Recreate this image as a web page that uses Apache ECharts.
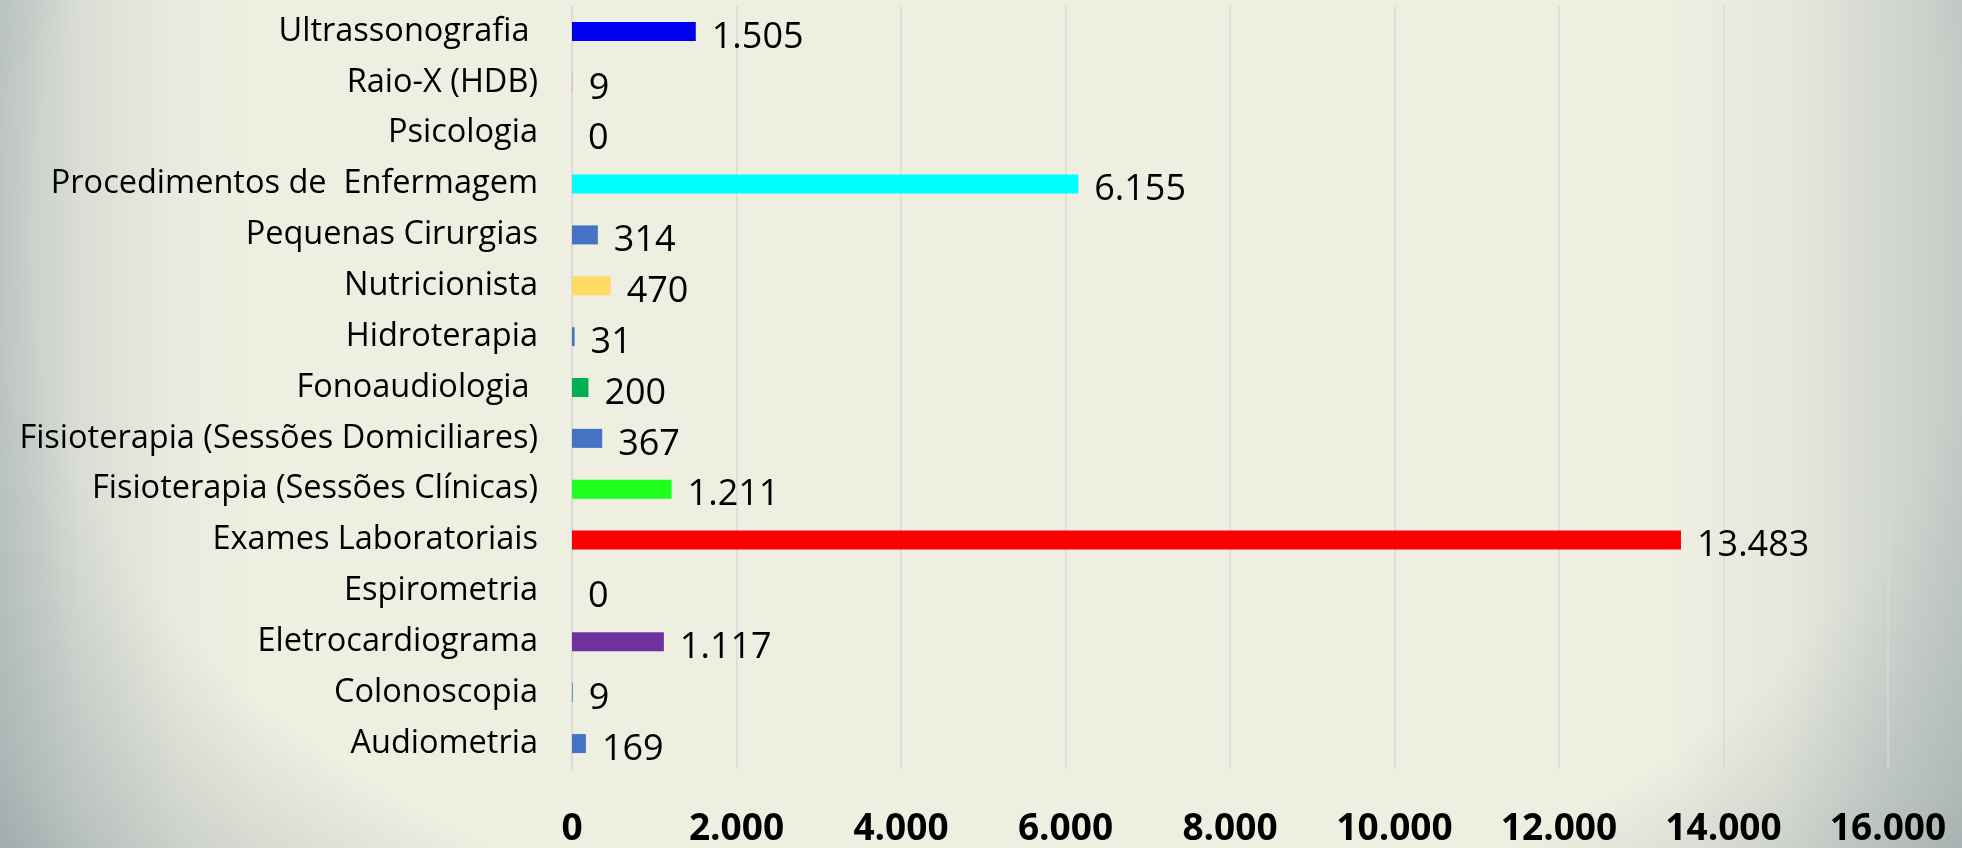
<!DOCTYPE html>
<html>
<head>
<meta charset="utf-8">
<script src="https://cdn.jsdelivr.net/npm/echarts@6/dist/echarts.min.js"></script>
<style>
  html, body { margin: 0; padding: 0; }
  body {
    width: 1962px; height: 848px; overflow: hidden;
    background:
      radial-gradient(ellipse 62% 105% at 51% 28%, rgba(238,238,225,0) 0%, rgba(238,238,225,0) 80%, rgba(150,163,166,0.45) 100%, rgba(130,145,150,0.75) 115%),
      linear-gradient(to right, #BFC7C4 0%, #D9DDD5 4%, #EAEBDE 9%, #EEEEE1 13%, #EEEEE1 85%, #E6E8DC 91%, #D3D8D1 96%, #C4CBC6 100%);
  }
  #chart { width: 1962px; height: 848px; }
</style>
</head>
<body>
<div id="chart"></div>
<script>
// ---- data (top to bottom as in the picture) ----
const categories = [
  "Ultrassonografia ",
  "Raio-X (HDB)",
  "Psicologia",
  "Procedimentos de  Enfermagem",
  "Pequenas Cirurgias",
  "Nutricionista",
  "Hidroterapia",
  "Fonoaudiologia ",
  "Fisioterapia (Sessões Domiciliares)",
  "Fisioterapia (Sessões Clínicas)",
  "Exames Laboratoriais",
  "Espirometria",
  "Eletrocardiograma",
  "Colonoscopia",
  "Audiometria"
];
const values = [1505, 9, 0, 6155, 314, 470, 31, 200, 367, 1211, 13483, 0, 1117, 9, 169];
const xTicks = [0, 2000, 4000, 6000, 8000, 10000, 12000, 14000, 16000];

// ---- styles ----
const barColors = [
  "#0000F0", "#D8B4CC", "#4472C4", "#00FFFF", "#4472C4", "#FFD966", "#4472C4",
  "#00B050", "#4472C4", "#1EFF1E", "#FF0000", "#4472C4", "#7030A0", "#4472C4", "#4472C4"
];

function fmt(v) {
  return String(v).replace(/\B(?=(\d{3})+(?!\d))/g, ".");
}

const chart = echarts.init(document.getElementById("chart"), null, { renderer: "canvas" });
chart.setOption({
  backgroundColor: "transparent",
  animation: false,
  grid: { left: 572, right: 74, top: 6, bottom: 71, containLabel: false },
  xAxis: {
    type: "value",
    min: xTicks[0],
    max: xTicks[xTicks.length - 1],
    interval: xTicks[1] - xTicks[0],
    axisLine: { show: false },
    axisTick: { show: false },
    splitLine: { show: true, lineStyle: { color: "#D9D9D9", width: 1.5 } },
    axisLabel: {
      formatter: fmt,
      fontFamily: "Open Sans",
      fontWeight: "bold",
      fontSize: 37,
      color: "#000",
      margin: 42
    }
  },
  yAxis: {
    type: "category",
    inverse: true,
    data: categories,
    axisLine: { show: true, lineStyle: { color: "#D9D9D9", width: 1.5 } },
    axisTick: { show: false },
    splitLine: { show: false },
    axisLabel: {
      fontFamily: "Open Sans",
      fontSize: 32.5,
      color: "#000",
      margin: 34
    }
  },
  series: [{
    type: "bar",
    data: values,
    barWidth: 19,
    itemStyle: { color: p => barColors[p.dataIndex] },
    label: {
      show: true,
      position: "right",
      distance: 16,
      formatter: p => fmt(p.value),
      fontFamily: "Open Sans",
      fontSize: 36,
      color: "#000",
      offset: [0, 6]
    }
  }]
});
</script>
</body>
</html>
